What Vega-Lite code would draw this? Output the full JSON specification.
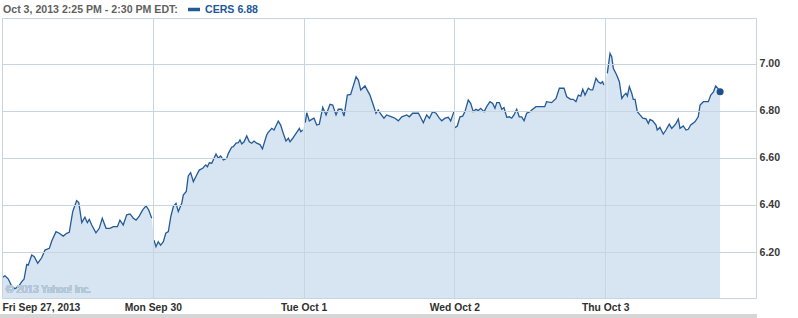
{
"$schema":"https://vega.github.io/schema/vega-lite/v6.json",
"width":754,"height":280,
"autosize":{"type":"none"},
"padding":{"left":2,"right":42,"top":18,"bottom":20},
"background":"#ffffff",
"config":{"view":{"stroke":"#c6d5e0","strokeWidth":1},"font":"Liberation Sans"},
"data":{"values":[
{"t":0.002,"v":6.093},{"t":0.020,"v":6.100},{"t":0.042,"v":6.086},{"t":0.064,"v":6.056},{"t":0.086,"v":6.045},{"t":0.108,"v":6.053},{"t":0.131,"v":6.075},{"t":0.146,"v":6.085},{"t":0.164,"v":6.148},{"t":0.174,"v":6.145},{"t":0.197,"v":6.188},{"t":0.214,"v":6.181},{"t":0.237,"v":6.153},{"t":0.263,"v":6.176},{"t":0.285,"v":6.209},{"t":0.314,"v":6.216},{"t":0.330,"v":6.247},{"t":0.358,"v":6.287},{"t":0.380,"v":6.280},{"t":0.406,"v":6.268},{"t":0.429,"v":6.280},{"t":0.446,"v":6.284},{"t":0.469,"v":6.372},{"t":0.495,"v":6.418},{"t":0.509,"v":6.410},{"t":0.529,"v":6.325},{"t":0.550,"v":6.348},{"t":0.566,"v":6.325},{"t":0.579,"v":6.339},{"t":0.595,"v":6.315},{"t":0.623,"v":6.282},{"t":0.645,"v":6.301},{"t":0.665,"v":6.344},{"t":0.690,"v":6.301},{"t":0.716,"v":6.301},{"t":0.738,"v":6.308},{"t":0.765,"v":6.308},{"t":0.782,"v":6.336},{"t":0.804,"v":6.315},{"t":0.827,"v":6.358},{"t":0.849,"v":6.362},{"t":0.871,"v":6.344},{"t":0.889,"v":6.336},{"t":0.910,"v":6.353},{"t":0.933,"v":6.379},{"t":0.955,"v":6.396},{"t":0.973,"v":6.379},{"t":0.993,"v":6.344},
{"t":1.008,"v":6.251},{"t":1.021,"v":6.223},{"t":1.036,"v":6.244},{"t":1.052,"v":6.230},{"t":1.070,"v":6.244},{"t":1.086,"v":6.280},{"t":1.103,"v":6.287},{"t":1.119,"v":6.350},{"t":1.136,"v":6.393},{"t":1.154,"v":6.407},{"t":1.169,"v":6.372},{"t":1.192,"v":6.407},{"t":1.202,"v":6.442},{"t":1.222,"v":6.457},{"t":1.235,"v":6.523},{"t":1.251,"v":6.537},{"t":1.269,"v":6.499},{"t":1.291,"v":6.527},{"t":1.308,"v":6.548},{"t":1.331,"v":6.556},{"t":1.351,"v":6.570},{"t":1.362,"v":6.562},{"t":1.375,"v":6.579},{"t":1.391,"v":6.577},{"t":1.401,"v":6.591},{"t":1.419,"v":6.616},{"t":1.434,"v":6.598},{"t":1.450,"v":6.608},{"t":1.468,"v":6.591},{"t":1.490,"v":6.598},{"t":1.501,"v":6.619},{"t":1.523,"v":6.645},{"t":1.534,"v":6.647},{"t":1.552,"v":6.662},{"t":1.567,"v":6.664},{"t":1.578,"v":6.676},{"t":1.590,"v":6.659},{"t":1.605,"v":6.668},{"t":1.623,"v":6.693},{"t":1.640,"v":6.668},{"t":1.656,"v":6.662},{"t":1.671,"v":6.671},{"t":1.689,"v":6.662},{"t":1.711,"v":6.656},{"t":1.727,"v":6.638},{"t":1.755,"v":6.697},{"t":1.764,"v":6.707},{"t":1.789,"v":6.725},{"t":1.804,"v":6.718},{"t":1.832,"v":6.756},{"t":1.848,"v":6.739},{"t":1.865,"v":6.704},{"t":1.883,"v":6.671},{"t":1.899,"v":6.683},{"t":1.910,"v":6.668},{"t":1.928,"v":6.683},{"t":1.943,"v":6.697},{"t":1.958,"v":6.711},{"t":1.972,"v":6.725},{"t":1.981,"v":6.711},{"t":1.994,"v":6.718},
{"t":2.011,"v":6.749},{"t":2.021,"v":6.791},{"t":2.038,"v":6.756},{"t":2.054,"v":6.763},{"t":2.069,"v":6.768},{"t":2.087,"v":6.739},{"t":2.104,"v":6.742},{"t":2.127,"v":6.814},{"t":2.149,"v":6.782},{"t":2.175,"v":6.827},{"t":2.193,"v":6.824},{"t":2.215,"v":6.782},{"t":2.230,"v":6.806},{"t":2.253,"v":6.806},{"t":2.268,"v":6.777},{"t":2.290,"v":6.866},{"t":2.312,"v":6.869},{"t":2.348,"v":6.944},{"t":2.363,"v":6.930},{"t":2.379,"v":6.888},{"t":2.407,"v":6.905},{"t":2.440,"v":6.866},{"t":2.462,"v":6.824},{"t":2.480,"v":6.789},{"t":2.495,"v":6.803},{"t":2.511,"v":6.786},{"t":2.533,"v":6.768},{"t":2.551,"v":6.782},{"t":2.584,"v":6.774},{"t":2.606,"v":6.768},{"t":2.628,"v":6.757},{"t":2.651,"v":6.774},{"t":2.684,"v":6.782},{"t":2.701,"v":6.774},{"t":2.723,"v":6.789},{"t":2.761,"v":6.789},{"t":2.776,"v":6.772},{"t":2.794,"v":6.749},{"t":2.816,"v":6.782},{"t":2.834,"v":6.768},{"t":2.856,"v":6.796},{"t":2.878,"v":6.789},{"t":2.900,"v":6.768},{"t":2.916,"v":6.757},{"t":2.938,"v":6.768},{"t":2.960,"v":6.772},{"t":2.975,"v":6.756},{"t":2.997,"v":6.796},
{"t":3.004,"v":6.728},{"t":3.019,"v":6.735},{"t":3.037,"v":6.774},{"t":3.055,"v":6.777},{"t":3.070,"v":6.796},{"t":3.092,"v":6.845},{"t":3.108,"v":6.831},{"t":3.125,"v":6.796},{"t":3.143,"v":6.806},{"t":3.158,"v":6.800},{"t":3.174,"v":6.810},{"t":3.197,"v":6.796},{"t":3.214,"v":6.817},{"t":3.236,"v":6.838},{"t":3.254,"v":6.831},{"t":3.269,"v":6.810},{"t":3.281,"v":6.834},{"t":3.298,"v":6.834},{"t":3.314,"v":6.806},{"t":3.329,"v":6.813},{"t":3.347,"v":6.772},{"t":3.364,"v":6.774},{"t":3.380,"v":6.768},{"t":3.395,"v":6.782},{"t":3.413,"v":6.806},{"t":3.430,"v":6.774},{"t":3.446,"v":6.774},{"t":3.462,"v":6.757},{"t":3.479,"v":6.789},{"t":3.501,"v":6.796},{"t":3.513,"v":6.803},{"t":3.541,"v":6.817},{"t":3.599,"v":6.817},{"t":3.611,"v":6.838},{"t":3.645,"v":6.834},{"t":3.674,"v":6.852},{"t":3.696,"v":6.895},{"t":3.727,"v":6.895},{"t":3.745,"v":6.859},{"t":3.771,"v":6.848},{"t":3.789,"v":6.848},{"t":3.806,"v":6.838},{"t":3.822,"v":6.866},{"t":3.838,"v":6.862},{"t":3.851,"v":6.891},{"t":3.866,"v":6.866},{"t":3.888,"v":6.895},{"t":3.904,"v":6.888},{"t":3.917,"v":6.888},{"t":3.939,"v":6.937},{"t":3.954,"v":6.923},{"t":3.970,"v":6.916},{"t":3.983,"v":6.923},{"t":3.990,"v":6.909},
{"t":4.014,"v":6.958},{"t":4.032,"v":7.043},{"t":4.043,"v":7.029},{"t":4.054,"v":6.980},{"t":4.076,"v":6.951},{"t":4.094,"v":6.923},{"t":4.110,"v":6.852},{"t":4.125,"v":6.866},{"t":4.138,"v":6.874},{"t":4.147,"v":6.862},{"t":4.160,"v":6.902},{"t":4.176,"v":6.874},{"t":4.186,"v":6.848},{"t":4.198,"v":6.848},{"t":4.213,"v":6.796},{"t":4.231,"v":6.782},{"t":4.249,"v":6.768},{"t":4.271,"v":6.765},{"t":4.286,"v":6.746},{"t":4.297,"v":6.763},{"t":4.315,"v":6.757},{"t":4.337,"v":6.739},{"t":4.345,"v":6.718},{"t":4.363,"v":6.729},{"t":4.385,"v":6.701},{"t":4.403,"v":6.718},{"t":4.425,"v":6.743},{"t":4.441,"v":6.725},{"t":4.456,"v":6.735},{"t":4.470,"v":6.746},{"t":4.485,"v":6.765},{"t":4.496,"v":6.725},{"t":4.518,"v":6.735},{"t":4.536,"v":6.718},{"t":4.551,"v":6.721},{"t":4.567,"v":6.739},{"t":4.595,"v":6.753},{"t":4.617,"v":6.774},{"t":4.629,"v":6.824},{"t":4.651,"v":6.838},{"t":4.684,"v":6.838},{"t":4.700,"v":6.866},{"t":4.718,"v":6.880},{"t":4.733,"v":6.905},{"t":4.751,"v":6.891},{"t":4.762,"v":6.880}
]},
"transform":[{"calculate":"floor(datum.t)","as":"day"}],
"encoding":{
  "x":{"field":"t","type":"quantitative","scale":{"domain":[0,5],"nice":false,"zero":false},
   "axis":{"values":[0,1,2,3,4],"labelExpr":"['Fri Sep 27, 2013','Mon Sep 30','Tue Oct 1','Wed Oct 2','Thu Oct 3'][round(datum.value)]","grid":true,"gridColor":"#c6d5e0","ticks":false,"domain":false,"labelFlush":true,"labelOverlap":false,"labelPadding":4,"labelFont":"Liberation Sans","labelFontSize":10.3,"labelFontWeight":"bold","labelColor":"#2f2f2f","title":null,"zindex":1}},
  "y":{"field":"v","type":"quantitative","scale":{"domain":[6.0055,7.193],"nice":false,"zero":false},
   "axis":{"orient":"right","values":[6.2,6.4,6.6,6.8,7.0],"format":".2f","grid":true,"gridColor":"#c6d5e0","domain":false,"ticks":false,"labelPadding":3,"labelFont":"Liberation Sans","labelFontSize":10.6,"labelFontWeight":"bold","labelColor":"#3a3a3a","title":null,"zindex":1}}
},
"layer":[
{"mark":{"type":"area","color":"#d6e5f1","opacity":1,"clip":true},
 "encoding":{"detail":{"field":"day"}}},
{"mark":{"type":"line","strokeWidth":1.3},
 "encoding":{
  "detail":{"field":"day"},
  "color":{"datum":"CERS 6.88","type":"nominal","scale":{"range":["#245a96"]},
   "legend":{"orient":"none","legendX":1,"legendY":-16.5,"title":"Oct 3, 2013 2:25 PM - 2:30 PM EDT:","titleOrient":"left","titleFont":"Liberation Sans","titleFontSize":10.6,"titleFontWeight":"bold","titleColor":"#5f5f5f","titlePadding":8,"titleLimit":400,"symbolType":"stroke","symbolSize":144,"symbolStrokeWidth":3.5,"labelFont":"Liberation Sans","labelFontSize":10.6,"labelFontWeight":"bold","labelColor":"#22589a","labelOffset":3,"padding":0}}
 }},
{"transform":[{"joinaggregate":[{"op":"max","field":"t","as":"tmax"}]},{"filter":"datum.t == datum.tmax"}],
 "mark":{"type":"point","filled":true,"size":50,"color":"#1e4f8c","opacity":1}},
{"mark":{"type":"text","align":"left","baseline":"middle","fontSize":10,"color":"#b3c7d8","font":"Liberation Sans"},
 "encoding":{
  "x":{"datum":0.027,"type":"quantitative"},
  "y":{"datum":6.039,"type":"quantitative"},
  "text":{"value":"© 2013 Yahoo! Inc."}
 }},
{"mark":{"type":"rect","color":"#d6d6d6","opacity":1,"clip":false},
 "encoding":{
  "x":{"datum":-0.013,"type":"quantitative"},
  "x2":{"datum":5.006},
  "y":{"datum":5.938,"type":"quantitative"},
  "y2":{"datum":5.92}
 }}
]
}
